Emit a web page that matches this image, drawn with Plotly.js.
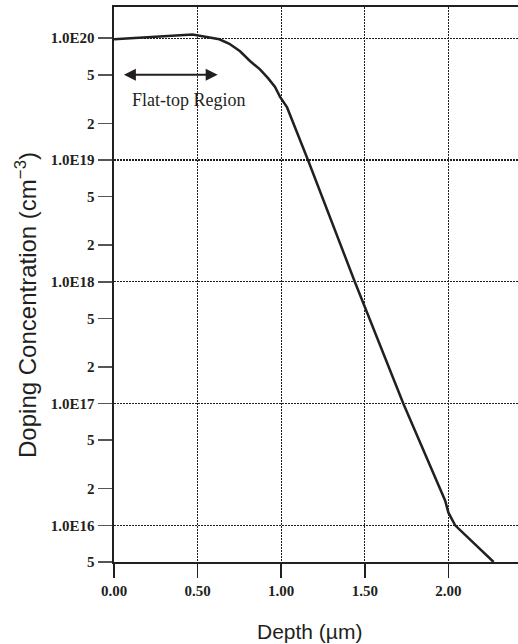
<!DOCTYPE html>
<html>
<head>
<meta charset="utf-8">
<script src="https://cdn.plot.ly/plotly-3.0.1.min.js"></script>
<style>
  html, body { margin: 0; padding: 0; background: #fff; }
  #chart { width: 518px; height: 644px; }
</style>
</head>
<body>
<div id="chart"></div>
<script>
// Depth profile (µm) and doping concentration (cm^-3)
const depth = [0, 0.47, 0.63, 0.69, 0.754, 0.813, 0.873, 0.921, 0.963, 0.993, 1.035, 1.16, 1.44, 1.73, 1.98, 2.0, 2.04, 2.27];
const concentration = [9.8e19, 1.07e20, 9.8e19, 9.0e19, 7.8e19, 6.5e19, 5.55e19, 4.7e19, 3.98e19, 3.3e19, 2.7e19, 1.0e19, 1.0e18, 1.0e17, 1.6e16, 1.27e16, 1.0e16, 5e15];

const xTickVals = [0, 0.5, 1.0, 1.5, 2.0];
const xTickText = ['0.00', '0.50', '1.00', '1.50', '2.00'];

const yTickVals = [1e20, 5e19, 2e19, 1e19, 5e18, 2e18, 1e18, 5e17, 2e17, 1e17, 5e16, 2e16, 1e16, 5e15];
const yTickText = ['1.0E20', '5', '2', '1.0E19', '5', '2', '1.0E18', '5', '2', '1.0E17', '5', '2', '1.0E16', '5'];
const decades = [1e20, 1e19, 1e18, 1e17, 1e16];

const flatTop = { start: 0.05, end: 0.62, level: 5e19, labelX: 0.45, labelY: 3.1e19, label: 'Flat-top Region' };

const ink = '#231f20';
const tickFont = { family: 'Liberation Serif, Times New Roman, serif', size: 15, weight: 'bold', color: ink };

const trace = {
  x: depth,
  y: concentration,
  type: 'scatter',
  mode: 'lines',
  line: { color: ink, width: 2.5 },
  hoverinfo: 'skip',
  showlegend: false
};

const layout = {
  width: 518,
  height: 644,
  margin: { l: 114, r: 0, t: 7, b: 82 },
  paper_bgcolor: '#fff',
  plot_bgcolor: '#fff',
  showlegend: false,
  xaxis: {
    range: [0, 2.416],
    tickmode: 'array',
    tickvals: xTickVals,
    ticktext: xTickText,
    ticks: 'outside',
    ticklen: 14,
    tickwidth: 1.5,
    tickcolor: ink,
    tickfont: tickFont,
    showgrid: true,
    gridcolor: ink,
    griddash: '2px,1px',
    gridwidth: 1.2,
    showline: true,
    linecolor: ink,
    linewidth: 2.2,
    mirror: true,
    zeroline: false,
    fixedrange: true
  },
  yaxis: {
    type: 'log',
    range: [Math.log10(5e15), 20.256],
    tickmode: 'array',
    tickvals: yTickVals,
    ticktext: yTickText,
    ticks: 'outside',
    ticklen: 14,
    tickwidth: 1.5,
    tickcolor: '#555',
    tickfont: tickFont,
    showgrid: false,
    minor: {
      tickmode: 'array',
      tickvals: decades,
      showgrid: true,
      gridcolor: ink,
      griddash: '2px,1px',
      gridwidth: 1.2,
      ticks: ''
    },
    showline: true,
    linecolor: ink,
    linewidth: 2.5,
    zeroline: false,
    fixedrange: true
  },
  annotations: [
    {
      xref: 'x', yref: 'y', axref: 'x', ayref: 'y',
      x: flatTop.end, y: Math.log10(flatTop.level),
      ax: flatTop.start, ay: Math.log10(flatTop.level),
      text: '',
      showarrow: true,
      arrowside: 'end+start',
      arrowhead: 2,
      startarrowhead: 2,
      arrowsize: 1.2,
      startarrowsize: 1.2,
      arrowwidth: 2,
      arrowcolor: ink
    },
    {
      xref: 'x', yref: 'y',
      x: flatTop.labelX, y: Math.log10(flatTop.labelY),
      text: flatTop.label,
      showarrow: false,
      font: { family: 'Liberation Serif, Times New Roman, serif', size: 18, color: ink },
      xanchor: 'center', yanchor: 'middle'
    },
    {
      xref: 'paper', yref: 'paper',
      x: 0.485, y: -0.126,
      text: 'Depth (\u00b5m)',
      showarrow: false,
      font: { family: 'Liberation Sans, Arial, sans-serif', size: 21, color: ink },
      xanchor: 'center', yanchor: 'middle'
    },
    {
      xref: 'paper', yref: 'paper',
      x: -0.218, y: 0.463,
      text: 'Doping Concentration (cm<sup>\u22123</sup>)',
      textangle: -90,
      showarrow: false,
      font: { family: 'Liberation Sans, Arial, sans-serif', size: 24, color: ink },
      xanchor: 'center', yanchor: 'middle'
    }
  ]
};

Plotly.newPlot('chart', [trace], layout, { displayModeBar: false, staticPlot: true });
</script>
</body>
</html>
